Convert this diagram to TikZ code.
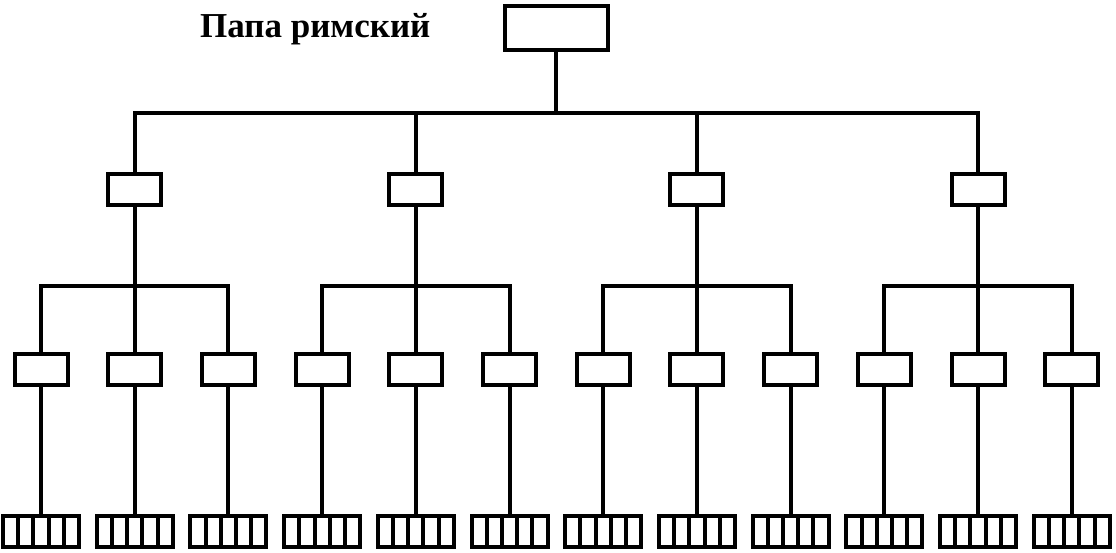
\documentclass[tikz,border=0pt]{standalone}
\usepackage{fontspec}
\setmainfont{Liberation Serif}
\tikzset{
  unit/.style={draw, line width=4pt, outer sep=0pt, inner sep=0pt,
    minimum width=53pt, minimum height=31pt},
  head/.style={unit, minimum width=103pt, minimum height=44pt},
  cell/.style={unit, minimum width=76pt, minimum height=31pt},
  link/.style={line width=4pt}
}
\begin{document}
\begin{tikzpicture}[x=1pt,y=-1pt]
\useasboundingbox (0,0) rectangle (1116,552);
\node[head] (pope) at (556,28) {};
\node[anchor=base west, inner sep=0pt, font=\fontsize{35}{35}\selectfont\bfseries] (title) at (200,37) {Папа римский};
\coordinate (top bus) at (556,113);
\foreach \i in {1,...,12} {
  \pgfmathsetmacro\ix{41+93.7*(\i-1)}
  \node[unit] (b\i) at (\ix,369) {};
  \node[cell] (u\i) at (\ix,531) {};
  \foreach \k in {1,...,4}
    \draw[link] ([xshift=\k*15.2pt]u\i.north west) -- ([xshift=\k*15.2pt]u\i.south west);
  \draw[link] (b\i) -- (u\i);
}
\foreach \g [evaluate=\g as \a using int(3*\g-2),
             evaluate=\g as \m using int(3*\g-1),
             evaluate=\g as \c using int(3*\g)] in {1,...,4} {
  \node[unit] (c\g) at (b\m |- 0,189) {};
  \coordinate (bus\g) at (b\m |- 0,286);
  \draw[link] (c\g) -- (b\m);
  \draw[link] (b\a.north) |- (bus\g) -| (b\c.north);
}
\draw[link] (pope) -- (top bus);
\draw[link] (c1.north) |- (top bus) -| (c4.north);
\draw[link] (c2.north) -- (c2.north |- top bus);
\draw[link] (c3.north) -- (c3.north |- top bus);
\end{tikzpicture}
\end{document}
